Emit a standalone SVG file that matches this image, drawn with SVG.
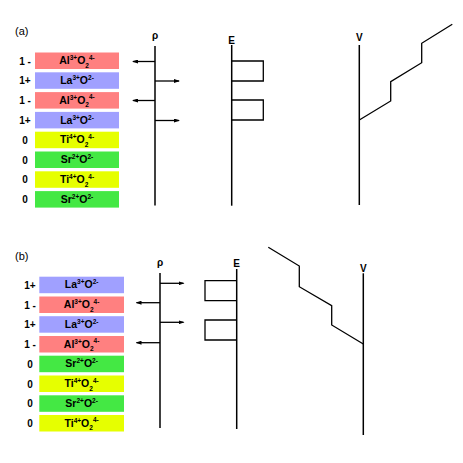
<svg xmlns="http://www.w3.org/2000/svg" width="463" height="463" viewBox="0 0 463 463">
<defs>
<style>
text{font-family:"Liberation Sans",Arial,sans-serif;fill:#000}
.lab{font-size:10px;font-weight:bold;text-anchor:middle}
.bt{font-size:10.5px;font-weight:bold;text-anchor:middle}
.s{font-size:6.5px}
.ax{stroke:#000;stroke-width:1.5;fill:none}
.ar{stroke:#000;stroke-width:1.3;fill:none;marker-end:url(#ah)}
.box{stroke:#000;stroke-width:1.3;fill:none}
.red{fill:#FF8080}.pur{fill:#A0A0FF}.yel{fill:#E6FF00}.grn{fill:#44E844}
.ttl{font-size:11px}
.axl{font-size:10px;font-weight:bold;text-anchor:middle}
</style>
<marker id="ah" markerWidth="6" markerHeight="4" refX="5" refY="2" orient="auto" markerUnits="userSpaceOnUse">
<path d="M0,0 L6,2 L0,4 Z" fill="#000"/>
</marker>
</defs>
<rect width="463" height="463" fill="#fff"/>

<text class="ttl" x="15" y="35">(a)</text>
<text class="ttl" x="15" y="260">(b)</text>

<!-- panel (a) layers -->
<g id="a1"><rect class="red" x="35" y="52.5" width="84" height="16.5"/><text class="lab" x="25" y="64.5">1 -</text><text class="bt" x="77" y="64.2">Al<tspan class="s" dy="-4">3+</tspan><tspan dy="4">O</tspan><tspan class="s" dy="3.5">2</tspan><tspan class="s" dy="-8">4-</tspan></text></g>
<g id="a2"><rect class="pur" x="35" y="72.3" width="84" height="16.5"/><text class="lab" x="25" y="84.3">1+</text><text class="bt" x="77" y="84">La<tspan class="s" dy="-4">3+</tspan><tspan dy="4">O</tspan><tspan class="s" dy="-4">2-</tspan></text></g>
<g id="a3"><rect class="red" x="35" y="92.1" width="84" height="16.5"/><text class="lab" x="25" y="104.1">1 -</text><text class="bt" x="77" y="103.8">Al<tspan class="s" dy="-4">3+</tspan><tspan dy="4">O</tspan><tspan class="s" dy="3.5">2</tspan><tspan class="s" dy="-8">4-</tspan></text></g>
<g id="a4"><rect class="pur" x="35" y="111.9" width="84" height="16.5"/><text class="lab" x="25" y="123.9">1+</text><text class="bt" x="77" y="123.6">La<tspan class="s" dy="-4">3+</tspan><tspan dy="4">O</tspan><tspan class="s" dy="-4">2-</tspan></text></g>
<g id="a5"><rect class="yel" x="35" y="131.7" width="84" height="16.5"/><text class="lab" x="25" y="143.7">0</text><text class="bt" x="77" y="143.4">Ti<tspan class="s" dy="-4">4+</tspan><tspan dy="4">O</tspan><tspan class="s" dy="3.5">2</tspan><tspan class="s" dy="-8">4-</tspan></text></g>
<g id="a6"><rect class="grn" x="35" y="151.5" width="84" height="16.5"/><text class="lab" x="25" y="163.5">0</text><text class="bt" x="77" y="163.2">Sr<tspan class="s" dy="-4">2+</tspan><tspan dy="4">O</tspan><tspan class="s" dy="-4">2-</tspan></text></g>
<g id="a7"><rect class="yel" x="35" y="171.3" width="84" height="16.5"/><text class="lab" x="25" y="183.3">0</text><text class="bt" x="77" y="183">Ti<tspan class="s" dy="-4">4+</tspan><tspan dy="4">O</tspan><tspan class="s" dy="3.5">2</tspan><tspan class="s" dy="-8">4-</tspan></text></g>
<g id="a8"><rect class="grn" x="35" y="191.1" width="84" height="16.5"/><text class="lab" x="25" y="203.1">0</text><text class="bt" x="77" y="202.8">Sr<tspan class="s" dy="-4">2+</tspan><tspan dy="4">O</tspan><tspan class="s" dy="-4">2-</tspan></text></g>

<!-- panel (b) layers -->
<g id="b1"><rect class="pur" x="39.3" y="276.7" width="84.7" height="16.5"/><text class="lab" x="30" y="288.7">1+</text><text class="bt" x="81.6" y="288.4">La<tspan class="s" dy="-4">3+</tspan><tspan dy="4">O</tspan><tspan class="s" dy="-4">2-</tspan></text></g>
<g id="b2"><rect class="red" x="39.3" y="296.5" width="84.7" height="16.5"/><text class="lab" x="30" y="308.5">1 -</text><text class="bt" x="81.6" y="308.2">Al<tspan class="s" dy="-4">3+</tspan><tspan dy="4">O</tspan><tspan class="s" dy="3.5">2</tspan><tspan class="s" dy="-8">4-</tspan></text></g>
<g id="b3"><rect class="pur" x="39.3" y="316.2" width="84.7" height="16.5"/><text class="lab" x="30" y="328.2">1+</text><text class="bt" x="81.6" y="327.9">La<tspan class="s" dy="-4">3+</tspan><tspan dy="4">O</tspan><tspan class="s" dy="-4">2-</tspan></text></g>
<g id="b4"><rect class="red" x="39.3" y="336" width="84.7" height="16.5"/><text class="lab" x="30" y="348">1 -</text><text class="bt" x="81.6" y="347.7">Al<tspan class="s" dy="-4">3+</tspan><tspan dy="4">O</tspan><tspan class="s" dy="3.5">2</tspan><tspan class="s" dy="-8">4-</tspan></text></g>
<g id="b5"><rect class="grn" x="39.3" y="355.7" width="84.7" height="16.5"/><text class="lab" x="30" y="367.7">0</text><text class="bt" x="81.6" y="367.4">Sr<tspan class="s" dy="-4">2+</tspan><tspan dy="4">O</tspan><tspan class="s" dy="-4">2-</tspan></text></g>
<g id="b6"><rect class="yel" x="39.3" y="375.5" width="84.7" height="16.5"/><text class="lab" x="30" y="387.5">0</text><text class="bt" x="81.6" y="387.2">Ti<tspan class="s" dy="-4">4+</tspan><tspan dy="4">O</tspan><tspan class="s" dy="3.5">2</tspan><tspan class="s" dy="-8">4-</tspan></text></g>
<g id="b7"><rect class="grn" x="39.3" y="395.3" width="84.7" height="16.5"/><text class="lab" x="30" y="407.3">0</text><text class="bt" x="81.6" y="407">Sr<tspan class="s" dy="-4">2+</tspan><tspan dy="4">O</tspan><tspan class="s" dy="-4">2-</tspan></text></g>
<g id="b8"><rect class="yel" x="39.3" y="415" width="84.7" height="16.5"/><text class="lab" x="30" y="427">0</text><text class="bt" x="81.6" y="426.7">Ti<tspan class="s" dy="-4">4+</tspan><tspan dy="4">O</tspan><tspan class="s" dy="3.5">2</tspan><tspan class="s" dy="-8">4-</tspan></text></g>

<!-- panel (a) plots -->
<g id="a-rho">
<text class="axl" x="155" y="39">ρ</text>
<line class="ax" x1="155" y1="46" x2="155" y2="205.5"/>
</g>
<g id="a-E">
<text class="axl" x="231.7" y="43.7">E</text>
<line class="ax" x1="231.7" y1="45" x2="231.7" y2="205.7"/>
<polyline class="box" points="231.7,61 263.3,61 263.3,81 231.7,81"/>
<polyline class="box" points="231.7,100 263.3,100 263.3,120 231.7,120"/>
</g>
<g id="a-V">
<text class="axl" x="359.3" y="40.7">V</text>
<line class="ax" x1="359.3" y1="45" x2="359.3" y2="205"/>
<polyline class="box" points="359.3,120 390.7,101 390.7,81.7 421.7,62.7 421.7,43.3 452.3,24.3"/>
</g>

<!-- panel (b) plots -->
<g id="b-rho">
<text class="axl" x="160" y="266">ρ</text>
<line class="ax" x1="160" y1="273" x2="160" y2="428"/>
</g>
<g id="b-E">
<text class="axl" x="236.7" y="266.7">E</text>
<line class="ax" x1="236.7" y1="269" x2="236.7" y2="429"/>
<polyline class="box" points="236.7,280.7 205,280.7 205,300.7 236.7,300.7"/>
<polyline class="box" points="236.7,320 205,320 205,340 236.7,340"/>
</g>
<g id="b-V">
<text class="axl" x="363.3" y="272.3">V</text>
<line class="ax" x1="363.3" y1="273.3" x2="363.3" y2="435"/>
<polyline class="box" points="268.3,247.3 299.3,266 299.3,286.7 331.7,305.7 331.7,325 363.3,344"/>
</g>

<!-- connectors: charge arrows -->
<g id="connectors">
<line class="ar" x1="155" y1="61.5" x2="133" y2="61.5"/>
<line class="ar" x1="155" y1="81" x2="179" y2="81"/>
<line class="ar" x1="155" y1="100.5" x2="133" y2="100.5"/>
<line class="ar" x1="155" y1="120.5" x2="179" y2="120.5"/>
<line class="ar" x1="160" y1="283.3" x2="183.5" y2="283.3"/>
<line class="ar" x1="160" y1="302.7" x2="136.5" y2="302.7"/>
<line class="ar" x1="160" y1="322.3" x2="183.5" y2="322.3"/>
<line class="ar" x1="160" y1="342.7" x2="136.5" y2="342.7"/>
</g>
</svg>
